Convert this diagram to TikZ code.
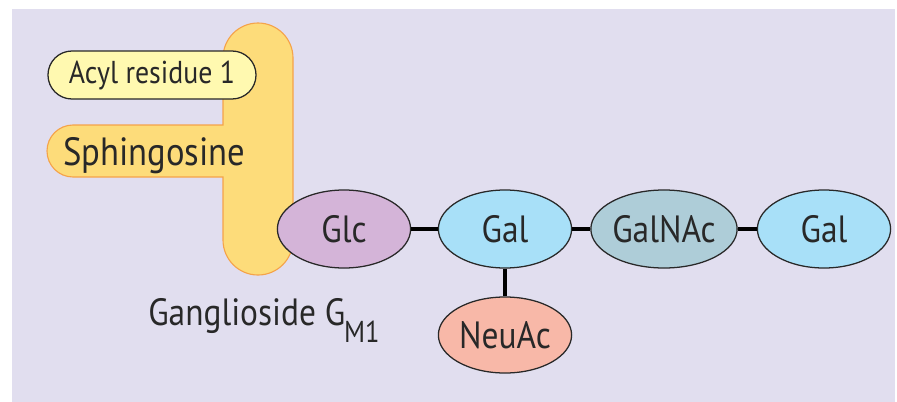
\documentclass[tikz,border=0pt]{standalone}
\usepackage{fontspec}
\setmainfont{PT Sans}[FakeStretch=0.88]
\usetikzlibrary{shapes.geometric}
\definecolor{bglav}{RGB}{225,222,239}
\definecolor{lipid}{RGB}{253,220,122}
\definecolor{lipidedge}{RGB}{245,163,74}
\definecolor{acylfill}{RGB}{255,249,176}
\definecolor{glcfill}{RGB}{212,180,216}
\definecolor{galfill}{RGB}{168,224,248}
\definecolor{nacfill}{RGB}{174,205,216}
\definecolor{neufill}{RGB}{248,184,168}
\definecolor{txt}{RGB}{40,40,40}

\begin{document}
\begin{tikzpicture}[x=0.025cm,y=0.025cm,
  sugar/.style={ellipse,draw=txt,line width=0.9pt,minimum width=3.33cm,
                minimum height=1.95cm,inner sep=0pt,text=txt,
                font=\fontsize{27}{29}\selectfont},
  bond/.style={line width=2.4pt,black},
  label/.style={anchor=base west,inner sep=0pt,text=txt}
]
% frame
\useasboundingbox (0,0) rectangle (897,-402);
\fill[bglav] (12,-9) rectangle (895,-402);

% ceramide part
\draw[lipidedge,fill=lipid,line width=0.8pt]
  (223,-125) -- (223,-58) arc (180:0:35) -- (293,-240) arc (0:-180:35)
  -- (223,-177) -- (73,-177) arc (270:90:26) -- cycle;
\node[label,font=\fontsize{28}{30}\selectfont] (sph) at (63,-165) {Sphingosine};
\node[draw=txt,fill=acylfill,line width=0.9pt,rounded corners=0.6cm,
      minimum width=5.2cm,minimum height=1.2cm,inner sep=0pt,text=txt,
      font=\fontsize{22.5}{24}\selectfont] (acyl) at (152,-75) {Acyl residue 1};

% sugars
\node[sugar,fill=glcfill] (glc)  at (344,-229) {Glc};
\node[sugar,fill=galfill] (gal1) at (505,-229) {Gal};
\node[sugar,fill=nacfill] (nac)  at (664,-229) {GalNAc};
\node[sugar,fill=galfill] (gal2) at (824,-229) {Gal};
\node[sugar,fill=neufill,minimum height=1.9cm] (neu) at (505,-335) {NeuAc};
\draw[bond] (glc)--(gal1); \draw[bond] (gal1)--(nac); \draw[bond] (nac)--(gal2);
\draw[bond] (gal1)--(neu);

\node[label,font=\fontsize{27}{29}\selectfont] (name) at (148,-325)
  {Ganglioside G\kern-1pt\raisebox{-0.45em}{\fontsize{21.5}{23}\selectfont M1}};
\end{tikzpicture}
\end{document}
